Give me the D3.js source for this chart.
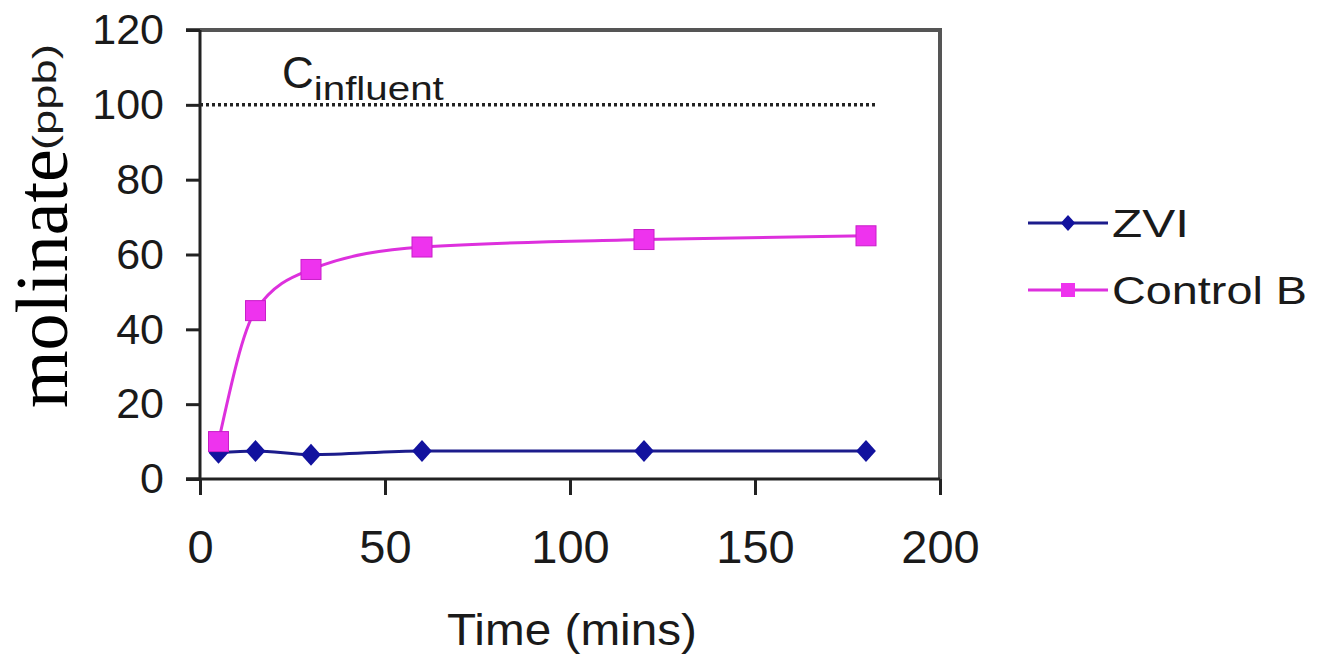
<!DOCTYPE html>
<html>
<head>
<meta charset="utf-8">
<script src="https://cdn.jsdelivr.net/npm/d3@7"></script>
<style>
	body { margin: 0; background: #fff; }
	svg { display: block; font-family: "Liberation Sans", Arial, sans-serif; }
</style>
</head>
<body>
<svg id="chart" width="1322" height="655"></svg>
<script>
// Data
const timeMins = [5, 15, 30, 60, 120, 180];
const zviValues = [7, 7.5, 6.5, 7.5, 7.5, 7.5];
const controlBValues = [10, 45, 56, 62, 64, 65];
const influentLevel = 100;
const influentRange = [0, 183];
const xTicks = [0, 50, 100, 150, 200];
const yTicks = [0, 20, 40, 60, 80, 100, 120];
const seriesNames = ["ZVI", "Control B"];

const svg = d3.select("#chart");

const x = d3.scaleLinear().domain([0, 200]).range([200, 940]);
const y = d3.scaleLinear().domain([0, 120]).range([479, 30]);

const zviColor = "#1c1c8c";
const zviMarker = "#12129e";
const ctrlColor = "#dd30dd";
const ctrlMarker = "#ee33ee";

// plot frame (top and right borders)
svg.append("path")
	.attr("d", `M${x(0) - 14},${y(120)} H${x(200)} V${y(0)}`)
	.attr("fill", "none")
	.attr("stroke", "#555")
	.attr("stroke-width", 4);

// axes
const yAxis = svg.append("g")
	.attr("transform", `translate(${x(0)},0)`)
	.call(d3.axisLeft(y).tickValues(yTicks).tickSize(14).tickPadding(22));

const xAxis = svg.append("g")
	.attr("transform", `translate(0,${y(0)})`)
	.call(d3.axisBottom(x).tickValues(xTicks).tickSize(16).tickPadding(35));

[yAxis, xAxis].forEach(ax => {
	ax.select(".domain").attr("stroke", "#222").attr("stroke-width", 3);
	ax.selectAll(".tick line").attr("stroke", "#222").attr("stroke-width", 3);
	ax.selectAll(".tick text").attr("fill", "#1a1a1a").attr("font-family", "Liberation Sans, Arial, sans-serif");
});
yAxis.select(".domain").attr("d", `M-14,${y(0)} H0 V${y(120)}`);
yAxis.selectAll(".tick text").attr("font-size", 43);
xAxis.select(".domain").attr("d", `M${x(0) - 14},0 H${x(200)}`);
xAxis.selectAll(".tick text").attr("font-size", 47);

// influent level line
svg.append("line")
	.attr("x1", x(influentRange[0]))
	.attr("x2", x(influentRange[1]))
	.attr("y1", y(influentLevel))
	.attr("y2", y(influentLevel))
	.attr("stroke", "#222")
	.attr("stroke-width", 3.5)
	.attr("stroke-dasharray", "3,3");

const cLabel = svg.append("text")
	.attr("x", 282)
	.attr("y", 88)
	.attr("fill", "#1a1a1a");
cLabel.append("tspan").attr("font-size", 44).text("C");
cLabel.append("tspan").attr("font-size", 34).attr("dy", 12)
	.attr("textLength", 130).attr("lengthAdjust", "spacingAndGlyphs").text("influent");

// series
const line = d3.line()
	.x(d => x(d[0]))
	.y(d => y(d[1]))
	.curve(d3.curveMonotoneX);

const zviPts = timeMins.map((t, i) => [t, zviValues[i]]);
const ctrlPts = timeMins.map((t, i) => [t, controlBValues[i]]);

function diamond(r) {
	return `M0,${-r} L${r * 0.9},0 L0,${r} L${-r * 0.9},0 Z`;
}

svg.append("path")
	.attr("d", line(zviPts))
	.attr("fill", "none")
	.attr("stroke", zviColor)
	.attr("stroke-width", 3);

svg.append("g").selectAll("path")
	.data(zviPts)
	.join("path")
	.attr("transform", d => `translate(${x(d[0])},${y(d[1])})`)
	.attr("d", diamond(11))
	.attr("fill", zviMarker);

svg.append("path")
	.attr("d", line(ctrlPts))
	.attr("fill", "none")
	.attr("stroke", ctrlColor)
	.attr("stroke-width", 3);

svg.append("g").selectAll("rect")
	.data(ctrlPts)
	.join("rect")
	.attr("x", d => x(d[0]) - 10)
	.attr("y", d => y(d[1]) - 10)
	.attr("width", 20)
	.attr("height", 20)
	.attr("fill", ctrlMarker)
	.attr("stroke", "#c81ec8")
	.attr("stroke-width", 1);

// axis titles
svg.append("text")
	.attr("x", 572)
	.attr("y", 645)
	.attr("text-anchor", "middle")
	.attr("font-size", 44)
	.attr("textLength", 250)
	.attr("lengthAdjust", "spacingAndGlyphs")
	.attr("fill", "#1a1a1a")
	.text("Time (mins)");

const yTitle = svg.append("g").attr("transform", "rotate(-90)");
yTitle.append("text")
	.attr("x", -408)
	.attr("y", 67)
	.attr("font-family", "Liberation Serif, Times New Roman, serif")
	.attr("font-size", 74)
	.attr("fill", "#000")
	.text("molinate");
yTitle.append("text")
	.attr("x", -150)
	.attr("y", 56)
	.attr("font-size", 34)
	.attr("textLength", 106)
	.attr("lengthAdjust", "spacingAndGlyphs")
	.attr("fill", "#1a1a1a")
	.text("(ppb)");

// legend
const legend = svg.append("g");
const legendRows = [
	{ name: seriesNames[0], color: zviColor, marker: zviMarker, ly: 223, textLen: 77 },
	{ name: seriesNames[1], color: ctrlColor, marker: ctrlMarker, ly: 290, textLen: 195 }
];
legendRows.forEach((row, i) => {
	legend.append("line")
		.attr("x1", 1028).attr("x2", 1108)
		.attr("y1", row.ly).attr("y2", row.ly)
		.attr("stroke", row.color).attr("stroke-width", 3);
	if (i === 0) {
		legend.append("path")
			.attr("transform", `translate(1068,${row.ly})`)
			.attr("d", diamond(8))
			.attr("fill", row.marker);
	} else {
		legend.append("rect")
			.attr("x", 1061).attr("y", row.ly - 7)
			.attr("width", 14).attr("height", 14)
			.attr("fill", row.marker);
	}
	legend.append("text")
		.attr("x", 1112)
		.attr("y", row.ly + 14)
		.attr("font-size", 38)
		.attr("textLength", row.textLen)
		.attr("lengthAdjust", "spacingAndGlyphs")
		.attr("fill", "#1a1a1a")
		.text(row.name);
});
</script>
</body>
</html>
